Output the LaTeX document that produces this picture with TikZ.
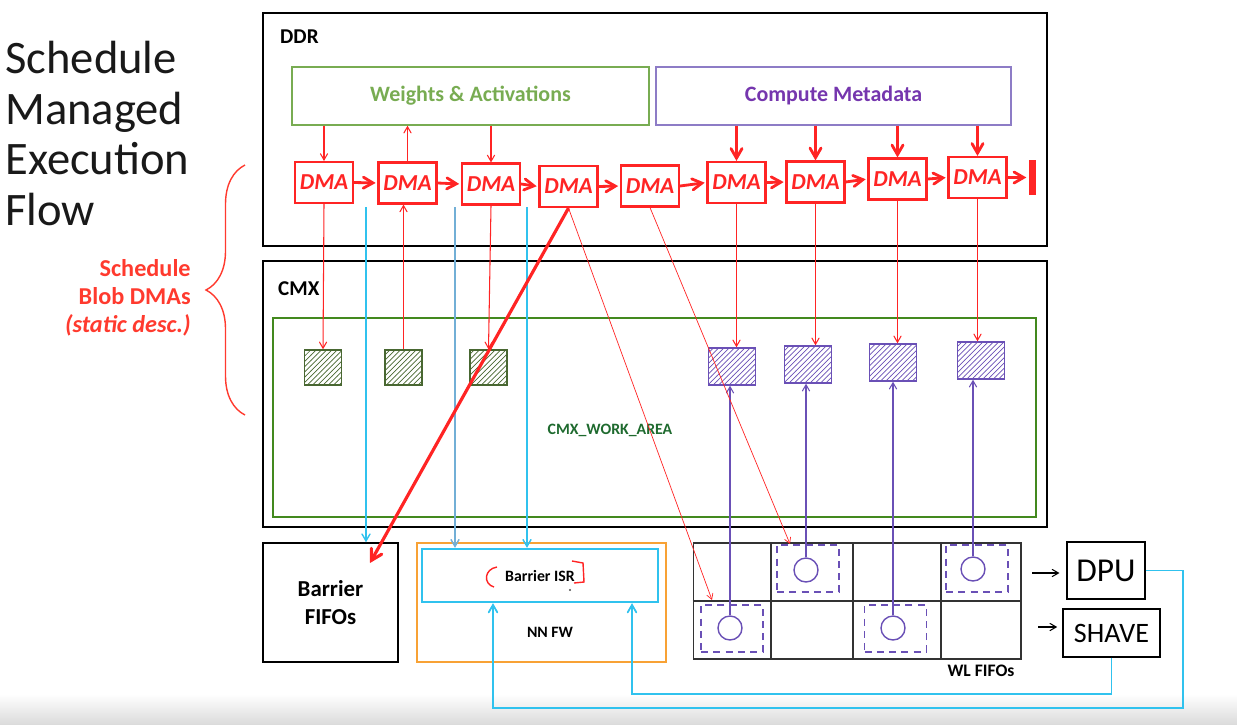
\documentclass[tikz,border=0pt]{standalone}
\usepackage{fontspec}
\setmainfont{Carlito}
\usetikzlibrary{arrows,positioning,patterns,decorations.pathreplacing}
\definecolor{dmared}{HTML}{FF2424}
\definecolor{notered}{HTML}{FF3A2E}
\definecolor{wagreen}{HTML}{78AC52}
\definecolor{workgreen}{HTML}{43891E}
\definecolor{worktext}{HTML}{1E6A2E}
\definecolor{metapurple}{HTML}{7536AE}
\definecolor{metaline}{HTML}{8D7CC6}
\definecolor{wlpurple}{HTML}{6A50B6}
\definecolor{barcyan}{HTML}{30C2EE}
\definecolor{barsteel}{HTML}{72AFD6}
\definecolor{fworange}{HTML}{F8A235}
\tikzset{region/.style={rectangle,draw=black,line width=1.5pt},
		dma/.style={rectangle,draw=dmared,line width=1.2pt,text=dmared,minimum width=1.16cm,minimum height=0.82cm,inner sep=0pt,
			font=\fontsize{13}{13}\selectfont\bfseries\itshape},
		fetch/.style={->,>=angle 60,draw=dmared,semithick},
		bigfetch/.style={->,>=angle 60,draw=dmared,line width=1.6pt},
		chain/.style={->,>=angle 60,draw=dmared,line width=1.6pt,shorten >=1pt},
		barrier/.style={->,>=angle 60,draw=barcyan,line width=0.8pt},
		feedback/.style={->,>=angle 60,draw=barcyan,line width=1pt}}
\begin{document}
\begin{tikzpicture}[x=0.02cm,y=-0.02cm,
		label/.style={font=\fontsize{12}{12}\selectfont\bfseries},
		store/.style={rectangle,line width=0.8pt,minimum height=1.16cm,font=\fontsize{12.5}{12.5}\selectfont\bfseries},
		wtile/.style={rectangle,draw=wagreen!60!black,thick,pattern=north east lines,pattern color=wagreen!60!black,minimum width=0.74cm,minimum height=0.70cm},
		mtile/.style={rectangle,draw=wlpurple,thick,pattern=north east lines,pattern color=wlpurple,minimum width=0.94cm,minimum height=0.74cm},
		slot/.style={rectangle,draw=wlpurple,thick,dash pattern=on 4pt off 3pt,minimum width=1.24cm,minimum height=0.94cm},
		desc/.style={circle,draw=wlpurple,thick,minimum size=0.48cm,inner sep=0pt},
		engine/.style={rectangle,draw=black,semithick,inner sep=0pt},
		wl/.style={->,>=angle 60,draw=wlpurple,semithick}]
	\useasboundingbox (0,0) rectangle (1237,724);
	\shade[top color=white,bottom color=black!14] (0,694) rectangle (1237,724);
	
	% title and brace
	\node[anchor=base west,align=left,inner sep=0pt,text=black!90,font=\fontsize{26.5}{28.7}\selectfont] (title) at (5,225) {Schedule\\Managed\\Execution\\Flow};
	\draw[notered,thick,decorate,decoration={brace,amplitude=0.78cm}] (245,415) -- (245,165) coordinate[pos=0.5] (brace-mid);
	\coordinate (brace-tip) at (204,298);
	\node[anchor=east,align=right,inner sep=0pt,text=notered,font=\fontsize{13.8}{15.8}\selectfont\bfseries] (blob-note) at (191,298) {Schedule\\Blob DMAs\\{\itshape (static desc.)}};
	
	% memories
	\node[region,minimum width=15.68cm,minimum height=4.66cm] (ddr) at (655,129.5) {};
	\node[label,anchor=west] (ddr-label) at (274,37) {DDR};
	\node[region,minimum width=15.68cm,minimum height=5.32cm] (cmx) at (655,394) {};
	\node[label,anchor=west] (cmx-label) at (272,289) {CMX};
	\node[rectangle,draw=workgreen,line width=1.3pt,minimum width=15.26cm,minimum height=3.98cm] (work-area) at (654.5,417.5) {};
	\node[text=worktext,font=\fontsize{9}{9}\selectfont\bfseries] (work-label) at (610,430) {CMX\_WORK\_AREA};
	\node[store,draw=wagreen,text=wagreen,minimum width=7.14cm] (weights) at (470.5,96) {Weights \& Activations};
	\node[store,draw=metaline,text=metapurple,minimum width=7.10cm] (metadata) at (833.5,96) {Compute Metadata};
	
	% dma chain
	\node[dma] (dma-1) at (324,182.5) {DMA};
	\node[dma] (dma-2) at (407.5,183) {DMA};
	\node[dma] (dma-3) at (491,184) {DMA};
	\node[dma] (dma-4) at (568.5,186.5) {DMA};
	\node[dma] (dma-5) at (650,186) {DMA};
	\node[dma] (dma-6) at (736.5,182.5) {DMA};
	\node[dma] (dma-7) at (815.5,182) {DMA};
	\node[dma] (dma-8) at (897.5,179) {DMA};
	\node[dma] (dma-9) at (977.5,177.5) {DMA};
	\node[rectangle,fill=dmared,minimum width=4pt,minimum height=0.70cm,inner sep=0pt] (chain-end) at (1032,177.5) {};
	\draw[chain] (dma-1.east) -- (dma-2.west);
	\draw[chain] (dma-2.east) -- (dma-3.west);
	\draw[chain] (dma-3.east) -- (dma-4.west);
	\draw[chain] (dma-4.east) -- (dma-5.west);
	\draw[chain] (dma-5.east) -- (dma-6.west);
	\draw[chain] (dma-6.east) -- (dma-7.west);
	\draw[chain] (dma-7.east) -- (dma-8.west);
	\draw[chain] (dma-8.east) -- (dma-9.west);
	\draw[chain] (dma-9.east) -- (chain-end.west);
	\draw[fetch] (dma-1 |- weights.south) -- (dma-1.north);
	\draw[fetch] (dma-2.north) -- (dma-2 |- weights.south);
	\draw[fetch] (dma-3 |- weights.south) -- (dma-3.north);
	\draw[bigfetch] (dma-6 |- metadata.south) -- (dma-6.north);
	\draw[bigfetch] (dma-7 |- metadata.south) -- (dma-7.north);
	\draw[bigfetch] (dma-8 |- metadata.south) -- (dma-8.north);
	\draw[bigfetch] (dma-9 |- metadata.south) -- (dma-9.north);
	
	% cmx tiles
	\node[wtile] (g-1) at (323,367.5) {};
	\node[wtile] (g-2) at (403.5,367.5) {};
	\node[wtile] (g-3) at (488.5,367.5) {};
	\node[mtile] (p-1) at (732,366.5) {};
	\node[mtile] (p-2) at (808,364.5) {};
	\node[mtile] (p-3) at (893,362.5) {};
	\node[mtile] (p-4) at (981,360.5) {};
	\draw[fetch] (dma-1.south) -- (g-1.north);
	\draw[fetch] (g-2.north) -- (g-2.north |- dma-2.south);
	\draw[fetch] (dma-3.south) -- (g-3.north);
	\draw[fetch] (dma-6.south) -- (dma-6.south |- p-1.north);
	\draw[fetch] (dma-7.south) -- (dma-7.south |- p-2.north);
	\draw[fetch] (dma-8.south) -- (dma-8.south |- p-3.north);
	\draw[fetch] (dma-9.south) -- (dma-9.south |- p-4.north);
	
	% barriers and firmware
	\node[rectangle,draw=black,thick,minimum width=2.70cm,minimum height=2.38cm,align=center,font=\fontsize{13}{16}\selectfont\bfseries] (barrier-fifos) at (330.5,602.5) {Barrier\\FIFOs};
	\node[rectangle,draw=fworange,line width=1.3pt,minimum width=4.98cm,minimum height=2.38cm] (nn-fw) at (541.5,602.5) {};
	\node[rectangle,draw=barcyan,line width=1.3pt,minimum width=4.72cm,minimum height=1.06cm,font=\fontsize{9}{9}\selectfont\bfseries] (barrier-isr) at (540,575.5) {Barrier ISR};
	\node[font=\fontsize{9}{9}\selectfont\bfseries] (nn-fw-label) at (550,632) {NN FW};
	\draw[dmared,thick] (497,567) .. controls (484,569) and (483,584) .. (494,587);
	\draw[dmared,thick] (572,561) -- (583,563) -- (584,582) -- (574,583);
	\fill[black!70] (570,590) circle (0.6pt);
	\coordinate (bar-src-1) at (366,207);
	\coordinate (bar-src-2) at (455,207);
	\coordinate (bar-src-3) at (527,207);
	\draw[barrier] (bar-src-1) -- (bar-src-1 |- barrier-fifos.north);
	\draw[barrier,draw=barsteel] (bar-src-2) -- (bar-src-2 |- barrier-isr.north);
	\draw[barrier] (bar-src-3) -- (bar-src-3 |- barrier-isr.north);
	\coordinate (fifo-hit) at (370,563);
	\draw[->,>=angle 60,draw=dmared,line width=1.8pt] (dma-4.south) -- (fifo-hit);
	
	% work list fifos
	\node[rectangle,draw=black!80,semithick,minimum width=6.56cm,minimum height=2.32cm] (wl-fifos) at (857,601) {};
	\draw[black!80,semithick] (wl-fifos.west) -- (wl-fifos.east);
	\draw[black!80,semithick] (771,543) -- (771,659) (853,543) -- (853,659) (941,543) -- (941,659);
	\node[font=\fontsize{10}{10}\selectfont\bfseries] (wl-label) at (981,671) {WL FIFOs};
	\node[slot] (wl-slot-1) at (732,628.5) {};
	\node[slot] (wl-slot-2) at (808,568.5) {};
	\node[slot] (wl-slot-3) at (895.5,628.5) {};
	\node[slot] (wl-slot-4) at (977,568.5) {};
	\node[desc] (wl-1) at (730,628) {};
	\node[desc] (wl-2) at (806,570) {};
	\node[desc] (wl-3) at (893,628) {};
	\node[desc] (wl-4) at (973,569) {};
	\draw[wl] (wl-1.north) -- (wl-1.north |- p-1.south);
	\draw[wl] (wl-2.north) -- (wl-2.north |- p-2.south);
	\draw[wl] (wl-3.north) -- (wl-3.north |- p-3.south);
	\draw[wl] (wl-4.north) -- (wl-4.north |- p-4.south);
	\coordinate (slot-hit-1) at (712,600);
	\coordinate (slot-hit-2) at (790,544);
	\draw[fetch,thin] (dma-4.south) -- (slot-hit-1);
	\draw[fetch,thin] (dma-5.south) -- (slot-hit-2);
	
	% engines
	\node[engine,minimum width=1.56cm,minimum height=1.14cm,font=\fontsize{19}{19}\selectfont] (dpu) at (1106,570.5) {DPU};
	\node[engine,minimum width=1.94cm,minimum height=0.96cm,font=\fontsize{16}{16}\selectfont] (shave) at (1111.5,633) {SHAVE};
	\coordinate (dpu-in) at (1032,573);
	\coordinate (shave-in) at (1038,627);
	\draw[->,>=angle 60,semithick,shorten >=4pt] (dpu-in) -- (dpu-in -| dpu.west);
	\draw[->,>=angle 60,semithick,shorten >=3pt] (shave-in) -- (shave-in -| shave.west);
	\coordinate (fb-low) at (632,694);
	\coordinate (fb-outer) at (1183,708);
	\coordinate (fb-left) at (493,708);
	\draw[feedback] (shave.south) |- (fb-low) -- (fb-low |- barrier-isr.south);
	\draw[feedback] (dpu.east) -| (fb-outer) -- (fb-left) -- (fb-left |- barrier-isr.south);
\end{tikzpicture}
\end{document}
